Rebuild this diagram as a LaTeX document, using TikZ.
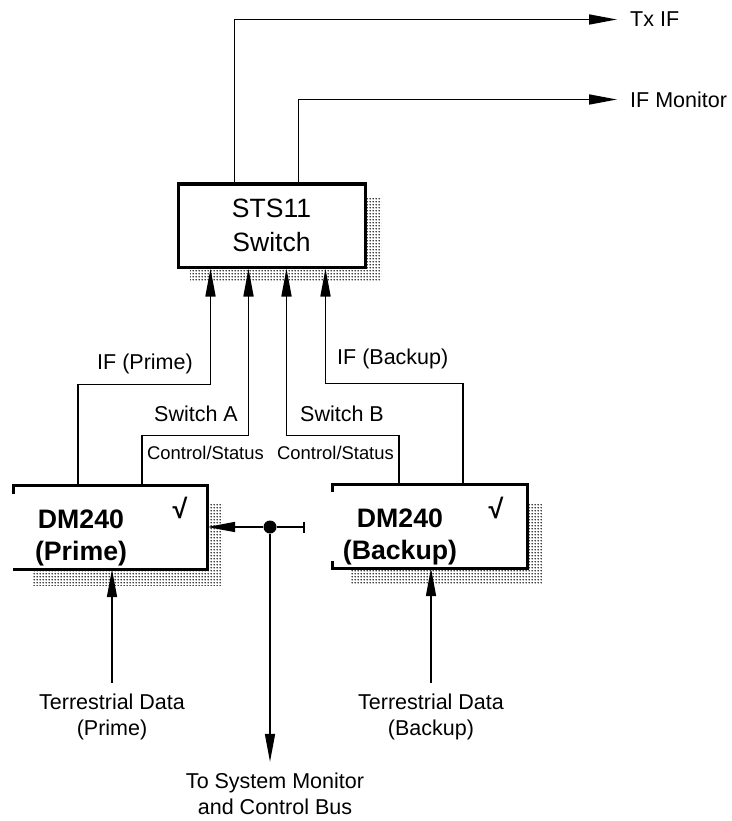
\documentclass[tikz,border=0pt]{standalone}
\usepackage{fontspec}
\setmainfont{Liberation Sans}
\usetikzlibrary{arrows.meta,patterns}
\pgfdeclarepatternformonly{shdots}{\pgfqpoint{0pt}{0pt}}{\pgfqpoint{3pt}{3pt}}{\pgfqpoint{3pt}{3pt}}{\pgfpathcircle{\pgfqpoint{1.5pt}{1.5pt}}{1pt}\pgfusepath{fill}}
\begin{document}
\begin{tikzpicture}[x=1pt,y=-1pt,
  wire/.style={line width=1.6pt},
  arr/.style={wire,-{Triangle[length=28pt,width=10pt]}},
  boxline/.style={line width=3pt},
  shade/.style={pattern=shdots, pattern color=black},
  lbl/.style={inner sep=0pt,font=\fontsize{21.5}{26}\selectfont},
  smalllbl/.style={inner sep=0pt,font=\fontsize{18.4}{22}\selectfont},
  bigbold/.style={inner sep=0pt, align=center, font=\bfseries\fontsize{26.7}{32}\selectfont},
  checkmk/.style={inner sep=0pt, font=\bfseries\fontsize{27}{27}\selectfont},
  ]
\useasboundingbox (0,0) rectangle (731,821);

% shadows
\fill[shade] (190,198) rectangle (381,281);
\fill[shade] (32,504) rectangle (222,585);
\fill[shade] (350,503) rectangle (542,584);

% switch
\node[draw, boxline, fill=white, minimum width=187pt, minimum height=83pt, inner sep=0pt, align=center, font=\fontsize{26.5}{34}\selectfont] (sts) at (271.5,225.5) {STS11\\Switch};

% modem boxes
\node[fill=white, minimum width=193pt, minimum height=83pt, inner sep=0pt] (dmp) at (110.5,527.5) {};
\node[fill=white, minimum width=194pt, minimum height=83pt, inner sep=0pt] (dmb) at (430,526.5) {};
\draw[boxline] ([shift={(0,8)}]dmp.north west) -- (dmp.north west) -- (dmp.north east) -- (dmp.south east) -- ([shift={(-1,0)}]dmp.south west);
\draw[boxline] ([shift={(0,7)}]dmb.north west) -- (dmb.north west) -- (dmb.north east) -- (dmb.south east) -- (dmb.south west) -- ([shift={(0,-7)}]dmb.south west);
\node[bigbold] (dmpt) at (81,538) {DM240\\(Prime)};
\node[bigbold] (dmbt) at (400,537) {DM240\\(Backup)};
\node[checkmk] (dmpc) at (180,508) {√};
\node[checkmk] (dmbc) at (496,508) {√};

% outputs
\node[lbl, anchor=west] (txif) at (630,19.5) {Tx IF};
\node[lbl, anchor=west] (ifmon) at (630,99.5) {IF Monitor};
\draw[arr] ([shift={(58,0)}]sts.north west) |- ([xshift=-13pt]txif.west);
\draw[arr] ([shift={(122,0)}]sts.north west) |- ([xshift=-13pt]ifmon.west);

% inputs to switch
\draw[arr] ([shift={(64,0)}]dmp.north west) |- ([shift={(34,116)}]sts.south west) -- ([shift={(34,0)}]sts.south west);
\draw[arr] ([shift={(128,0)}]dmp.north west) |- ([shift={(72,167)}]sts.south west) -- ([shift={(72,0)}]sts.south west);
\draw[arr] ([shift={(66,0)}]dmb.north west) |- ([shift={(110,167)}]sts.south west) -- ([shift={(110,0)}]sts.south west);
\draw[arr] ([shift={(130,0)}]dmb.north west) |- ([shift={(149,115)}]sts.south west) -- ([shift={(149,0)}]sts.south west);

\node[lbl, anchor=base west] (lifp) at (97,369) {IF (Prime)};
\node[lbl, anchor=base west] (lswa) at (154,421) {Switch A};
\node[lbl, anchor=base west] (lifb) at (337,364) {IF (Backup)};
\node[lbl, anchor=base west] (lswb) at (300,421) {Switch B};
\node[smalllbl, anchor=base west] (lcsa) at (147,459) {Control/Status};
\node[smalllbl, anchor=base west] (lcsb) at (277,459) {Control/Status};

% terrestrial data
\node[lbl, align=center] (terp) at (112,717) {Terrestrial Data\\(Prime)};
\node[lbl, align=center] (terb) at (431,717) {Terrestrial Data\\(Backup)};
\draw[arr, shorten <=11pt] (terp.north) -- (terp.north |- dmp.south);
\draw[arr, shorten <=11pt] (terb.north) -- (terb.north |- dmb.south);

% monitor and control bus
\node[circle, fill=black, inner sep=0pt, minimum size=13pt] (jn) at (270,527) {};
\coordinate (tend) at (305,527);
\draw[arr] (jn) -- (dmp.east |- jn);
\draw[wire, -{Bar[width=11pt]}] (jn) -- (tend);
\node[lbl, align=center] (sysmon) at (275,794) {To System Monitor\\and Control Bus};
\draw[arr, shorten >=11pt] (jn) -- (jn |- sysmon.north);
\end{tikzpicture}
\end{document}
